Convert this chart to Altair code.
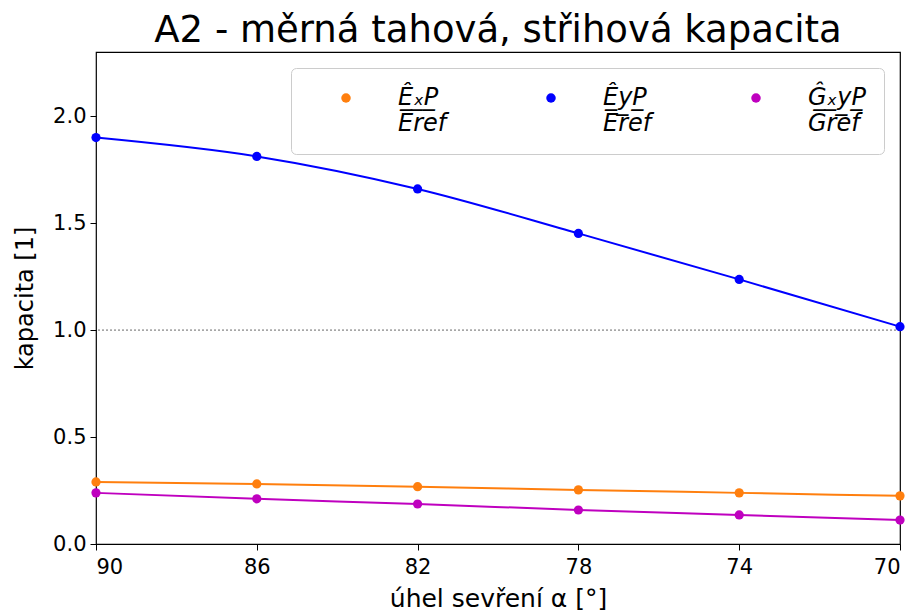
import altair as alt
import pandas as pd

angles = [90, 86, 82, 78, 74, 70]
ex_vals = [0.290, 0.281, 0.268, 0.253, 0.239, 0.225]
ey_vals = [1.900, 1.812, 1.660, 1.452, 1.237, 1.016]
gxy_vals = [0.239, 0.211, 0.187, 0.159, 0.136, 0.112]

series_names = ["Ex", "Ey", "Gxy"]
U = "\u0332"  # combining low line -> fraction bar under numerator
def frac(num, den):
    return "".join(ch + U for ch in num) + "|" + den

series_labels = {
    "Ex": frac("Ê\u2093P", "Eref"),
    "Ey": frac("ÊyP", "Eref"),
    "Gxy": frac("Ĝ\u2093yP", "Gref"),
}
colors = ["#ff7f0e", "#0000ff", "#bf00bf"]

rows = []
for name, vals in zip(series_names, [ex_vals, ey_vals, gxy_vals]):
    for a, v in zip(angles, vals):
        rows.append({"alpha": a, "value": v, "series": series_labels[name]})
df = pd.DataFrame(rows)
ref_df = pd.DataFrame({"y": [1.0]})

order = [series_labels[n] for n in series_names]

x_enc = alt.X("alpha:Q",
              scale=alt.Scale(domain=[70, 90], reverse=True, nice=False, zero=False),
              axis=alt.Axis(values=angles, title="úhel sevření α [°]", format="d"))
y_enc = alt.Y("value:Q",
              scale=alt.Scale(domain=[0, 2.3], nice=False),
              axis=alt.Axis(values=[0, 0.5, 1.0, 1.5, 2.0], format=".1f", title="kapacita [1]"))

legend = alt.Legend(title=None, orient="top-right", direction="horizontal",
                    columns=3, symbolType="circle", symbolSize=90,
                    symbolStrokeWidth=0, symbolOffset=25,
                    labelFontSize=24, labelFontStyle="italic",
                    labelOffset=40, columnPadding=67,
                    labelExpr="split(datum.label, '|')",
                    labelBaseline="middle",
                    padding=18, offset=16,
                    strokeColor="#cccccc", fillColor="white",
                    cornerRadius=5)
color_enc = alt.Color("series:N", scale=alt.Scale(domain=order, range=colors), legend=legend)

base = alt.Chart(df)
lines = base.mark_line(interpolate="monotone", strokeWidth=2).encode(
    x=x_enc, y=y_enc, color=color_enc)
points = base.mark_point(filled=True, size=85, opacity=1).encode(
    x=x_enc, y=y_enc, color=color_enc)
rule = alt.Chart(ref_df).mark_rule(color="black", strokeWidth=0.6, strokeDash=[2, 2]).encode(
    y=alt.Y("y:Q", scale=alt.Scale(domain=[0, 2.3], nice=False)))

chart = alt.layer(rule, lines, points).properties(
    width=804, height=492,
    padding={"left": 5, "top": 4, "right": 0, "bottom": 0},
    title=alt.TitleParams("A2 - měrná tahová, střihová kapacita", fontSize=37,
                          fontWeight="normal", font="DejaVu Sans", color="black", offset=2),
).configure_view(stroke="black", strokeWidth=1.2).configure_axis(
    grid=False, domain=False, labelFont="DejaVu Sans", titleFont="DejaVu Sans",
    labelFontSize=21, titleFontSize=24, titleFontWeight="normal", labelColor="black",
    titleColor="black", tickColor="black", tickSize=6, labelPadding=4
).configure_axisX(titleFontSize=25, titlePadding=9, labelPadding=6
).configure_axisY(titlePadding=15).configure_legend(labelFont="DejaVu Sans")

chart.save("out.html", embed_options={"renderer": "svg", "actions": False})
